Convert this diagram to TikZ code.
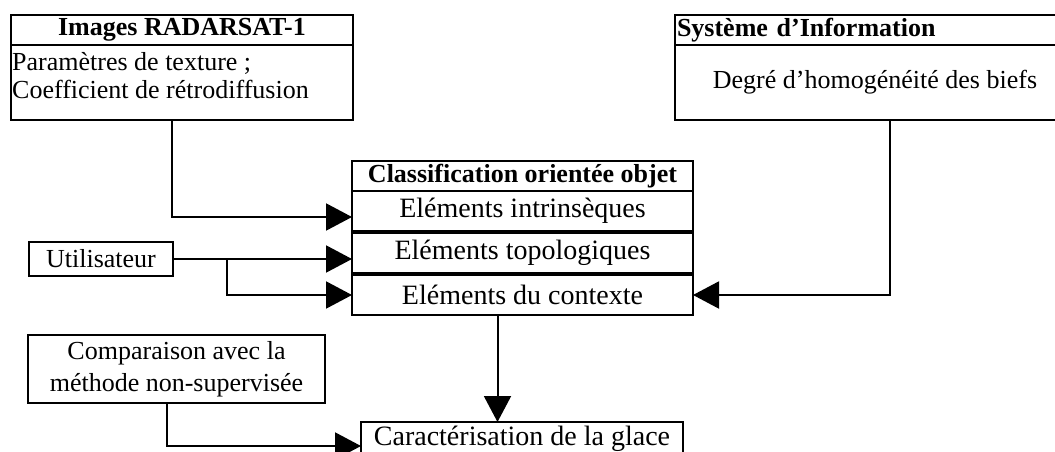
\documentclass[tikz,border=0pt]{standalone}
\usepackage{fontspec}
\setmainfont{Liberation Serif}
\usetikzlibrary{arrows.meta,positioning}

\begin{document}
\begin{tikzpicture}[x=1pt,y=-1pt,
        box/.style={draw, line width=1.6pt, rectangle, inner sep=0pt, outer sep=0pt},
        txt/.style={font=\fontsize{26}{28}\selectfont},
        head/.style={font=\fontsize{26}{28}\selectfont\bfseries},
        row/.style={box, font=\fontsize{28}{30}\selectfont, minimum width=341pt, minimum height=40pt},
        flow/.style={draw, line width=2pt, -{Triangle[length=26pt,width=27pt]}}]
    \clip (0,0) rectangle (1055,452);

    % sources
    \node[box, head, minimum width=342pt, minimum height=30pt] (imgtitle) at (182,30) {Images RADARSAT-1};
    \node[box, minimum width=342pt, minimum height=75pt, anchor=north] (imgbody) at (imgtitle.south) {};
    \node[txt, align=left, anchor=north west, inner sep=0pt] (imgtext) at ([xshift=1pt,yshift=-7pt]imgbody.north west) {Paramètres de texture ;\\Coefficient de rétrodiffusion};

    \node[box, head, text width=396pt, inner xsep=2pt, align=left, minimum height=30pt] (sititle) at (875,30) {Système d’Information};
    \node[box, txt, minimum width=400pt, minimum height=75pt, anchor=north] (sibody) at (sititle.south) {Degré d’homogénéité des biefs};

    \node[box, txt, minimum width=144pt, minimum height=34pt] (user) at (101,259) {Utilisateur};
    \node[box, font=\fontsize{26}{32}\selectfont, align=center, minimum width=297pt, minimum height=68pt] (comp) at (176.5,369) {Comparaison avec la\\méthode non-supervisée};

    % classification
    \node[box, head, minimum width=341pt, minimum height=30pt] (classif) at (522.5,176) {Classification orientée objet};
    \node[row, anchor=north] (intr) at (classif.south) {Eléments intrinsèques};
    \node[row, below=2pt of intr] (topo) {Eléments topologiques};
    \node[row, below=2pt of topo] (ctx) {Eléments du contexte};

    \node[box, font=\fontsize{28}{30}\selectfont, text height=20pt, text depth=13pt, minimum width=322pt, minimum height=40pt] (glace) at (522,442) {Caractérisation de la glace};

    \path[flow] ([xshift=-10pt]imgbody.south) |- ([yshift=-6pt]intr.west);
    \path[flow] ([xshift=15pt]sibody.south) |- (ctx.east);
    \path[flow] (user.east) -- (user.east -| topo.west);
    \path[draw, line width=2pt] (user.east) -- ++(54,0) coordinate (split);
    \path[flow] (split) |- (ctx.west);
    \path[flow] ([xshift=-25pt]ctx.south) -- ([xshift=-25pt]ctx.south |- glace.north);
    \path[flow] ([xshift=-10pt]comp.south) |- ([yshift=-4pt]glace.west);
\end{tikzpicture}
\end{document}
